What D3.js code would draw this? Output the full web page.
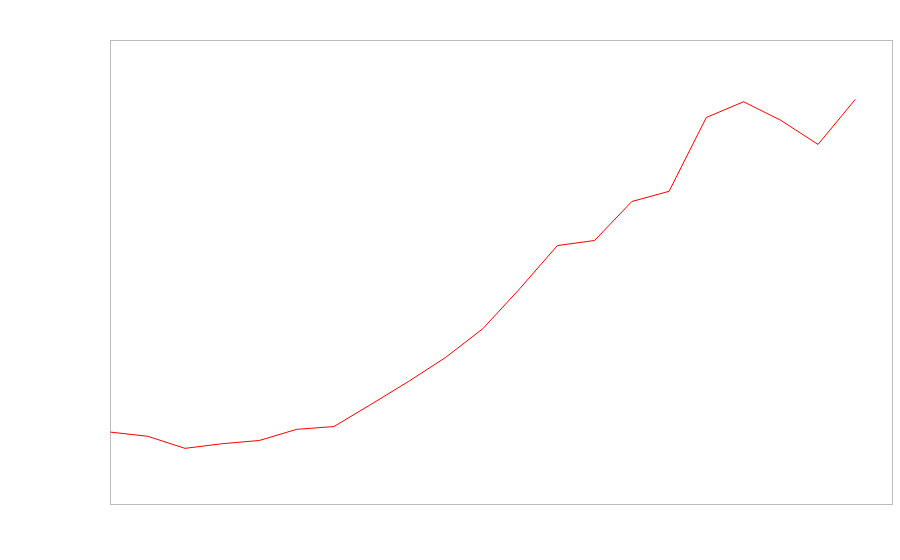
<!DOCTYPE html>
<html>
<head>
<meta charset="utf-8">
<script src="https://cdn.jsdelivr.net/npm/d3@7"></script>
<style>
  body { margin: 0; background: #fff; }
</style>
</head>
<body>
<div id="chart"></div>
<script>
// data (index along x, value 0-100 along y)
var steps = [0,1,2,3,4,5,6,7,8,9,10,11,12,13,14,15,16,17,18,19,20];
var values = [15.6, 14.7, 12.1, 13.1, 13.8, 16.2, 16.8, 21.6, 26.5, 31.7, 37.9,
              46.6, 55.8, 56.9, 65.3, 67.5, 83.4, 86.8, 82.8, 77.6, 87.3];

var width = 900, height = 560;
var margin = {top: 40.5, right: 7.5, bottom: 55.5, left: 110.5};
var w = width - margin.left - margin.right;
var h = height - margin.top - margin.bottom;

var svg = d3.select("#chart").append("svg")
    .attr("width", width)
    .attr("height", height);

var g = svg.append("g")
    .attr("transform", "translate(" + margin.left + "," + margin.top + ")");

var x = d3.scaleLinear().domain([0, 21]).range([0, w]);
var y = d3.scaleLinear().domain([0, 100]).range([h, 0]);

// frame
g.append("rect")
    .attr("width", w)
    .attr("height", h)
    .attr("fill", "none")
    .attr("stroke", "#bbb")
    .attr("stroke-width", 1);

var line = d3.line()
    .x(function(d, i) { return x(steps[i]); })
    .y(function(d) { return y(d); });

g.append("path")
    .datum(values)
    .attr("d", line)
    .attr("fill", "none")
    .attr("stroke", "red")
    .attr("stroke-width", 1);
</script>
</body>
</html>
